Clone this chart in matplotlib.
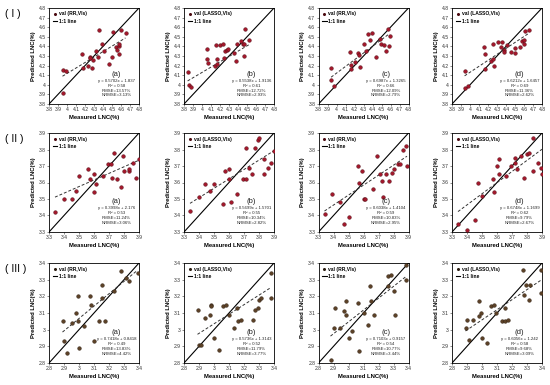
import matplotlib
matplotlib.use('Agg')
import matplotlib.pyplot as plt
from matplotlib.ticker import FuncFormatter, MultipleLocator
from matplotlib.lines import Line2D

# ---------------- data ----------------
row_titles = ['( I )', '( II )', '( III )']
panel_letters = ['(a)', '(b)', '(c)', '(d)']
legend_labels = ['val (RR,VIs)', 'val (LASSO,VIs)', 'val (RR,VIs)', 'val (LASSO,VIs)']
row_limits = [(3.8, 4.8), (3.3, 3.9), (2.8, 3.4)]

# Row I
r1a_x = [3.95, 3.95, 3.99, 4.17, 4.18, 4.23, 4.25, 4.26, 4.28, 4.29, 4.32, 4.35, 4.36, 4.39, 4.41, 4.47, 4.50, 4.51, 4.54, 4.56, 4.58, 4.58, 4.60, 4.65, 4.58]
r1a_y = [3.91, 4.15, 4.14, 4.32, 4.18, 4.20, 4.29, 4.28, 4.17, 4.26, 4.35, 4.29, 4.57, 4.43, 4.35, 4.22, 4.29, 4.55, 4.39, 4.36, 4.40, 4.32, 4.57, 4.54, 4.43]
r1b_x = [3.84, 3.85, 3.88, 4.06, 4.06, 4.07, 4.14, 4.16, 4.17, 4.17, 4.20, 4.23, 4.24, 4.25, 4.28, 4.29, 4.36, 4.38, 4.39, 4.43, 4.45, 4.47, 4.47, 4.48, 4.52]
r1b_y = [4.13, 4.00, 3.98, 4.37, 4.27, 4.23, 4.20, 4.41, 4.27, 4.22, 4.41, 4.43, 4.28, 4.35, 4.36, 4.37, 4.33, 4.25, 4.43, 4.46, 4.43, 4.43, 4.30, 4.58, 4.47]
r1c_x = [3.94, 3.94, 3.97, 4.15, 4.16, 4.16, 4.21, 4.24, 4.25, 4.26, 4.30, 4.33, 4.35, 4.37, 4.39, 4.44, 4.48, 4.49, 4.53, 4.55, 4.57, 4.58, 4.59]
r1c_y = [4.17, 4.05, 3.99, 4.34, 4.21, 4.16, 4.24, 4.33, 4.31, 4.19, 4.42, 4.35, 4.53, 4.47, 4.54, 4.29, 4.48, 4.42, 4.41, 4.35, 4.58, 4.40, 4.51]
r1d_x = [3.94, 3.94, 3.98, 4.16, 4.17, 4.17, 4.23, 4.25, 4.26, 4.27, 4.31, 4.35, 4.36, 4.38, 4.38, 4.41, 4.46, 4.50, 4.50, 4.56, 4.58, 4.60, 4.60, 4.61, 4.66]
r1d_y = [4.14, 3.97, 3.99, 4.39, 4.32, 4.16, 4.25, 4.27, 4.43, 4.20, 4.45, 4.39, 4.45, 4.36, 4.34, 4.41, 4.34, 4.33, 4.38, 4.39, 4.46, 4.47, 4.43, 4.56, 4.57]

# Row II
r2a_x = [3.34, 3.40, 3.45, 3.48, 3.50, 3.56, 3.57, 3.60, 3.60, 3.61, 3.66, 3.69, 3.71, 3.72, 3.73, 3.75, 3.78, 3.79, 3.80, 3.83, 3.83, 3.86, 3.88, 3.90]
r2a_y = [3.42, 3.50, 3.50, 3.55, 3.64, 3.68, 3.62, 3.54, 3.65, 3.59, 3.64, 3.71, 3.71, 3.63, 3.78, 3.62, 3.57, 3.76, 3.67, 3.67, 3.68, 3.72, 3.63, 3.74]
r2b_x = [3.34, 3.40, 3.44, 3.47, 3.50, 3.56, 3.57, 3.60, 3.60, 3.61, 3.65, 3.69, 3.71, 3.71, 3.73, 3.75, 3.77, 3.79, 3.80, 3.83, 3.83, 3.86, 3.88, 3.90]
r2b_y = [3.43, 3.51, 3.59, 3.55, 3.59, 3.47, 3.67, 3.62, 3.68, 3.48, 3.53, 3.62, 3.81, 3.62, 3.69, 3.65, 3.81, 3.86, 3.87, 3.65, 3.74, 3.69, 3.72, 3.79]
r2c_x = [3.34, 3.39, 3.44, 3.47, 3.50, 3.56, 3.57, 3.59, 3.60, 3.61, 3.66, 3.69, 3.71, 3.72, 3.73, 3.75, 3.77, 3.79, 3.80, 3.83, 3.84, 3.86, 3.88, 3.89]
r2c_y = [3.41, 3.53, 3.48, 3.35, 3.39, 3.70, 3.60, 3.67, 3.50, 3.50, 3.56, 3.76, 3.65, 3.61, 3.51, 3.65, 3.61, 3.66, 3.68, 3.71, 3.71, 3.80, 3.82, 3.70]
r2d_x = [3.34, 3.40, 3.45, 3.47, 3.50, 3.57, 3.58, 3.60, 3.61, 3.61, 3.66, 3.69, 3.72, 3.72, 3.73, 3.76, 3.78, 3.80, 3.81, 3.84, 3.84, 3.87, 3.89, 3.90]
r2d_y = [3.35, 3.31, 3.37, 3.60, 3.52, 3.62, 3.54, 3.70, 3.74, 3.65, 3.64, 3.70, 3.75, 3.72, 3.68, 3.76, 3.63, 3.77, 3.78, 3.87, 3.67, 3.72, 3.69, 3.65]

# Row III
r3a_x = [2.89, 2.90, 2.92, 2.95, 2.98, 2.99, 2.99, 3.00, 3.03, 3.07, 3.08, 3.10, 3.13, 3.15, 3.15, 3.17, 3.23, 3.28, 3.31, 3.33, 3.39]
r3a_y = [3.05, 2.93, 2.86, 3.04, 3.10, 3.20, 3.05, 2.89, 3.02, 3.20, 3.15, 2.93, 3.05, 3.27, 3.19, 3.05, 3.23, 3.35, 3.31, 3.29, 3.34]
r3b_x = [2.89, 2.90, 2.91, 2.94, 2.97, 2.98, 2.98, 3.00, 3.03, 3.06, 3.08, 3.10, 3.13, 3.15, 3.16, 3.18, 3.26, 3.27, 3.29, 3.30, 3.31, 3.38, 3.38]
r3b_y = [3.12, 2.91, 2.91, 3.07, 3.09, 3.15, 3.14, 2.95, 2.88, 3.14, 3.15, 3.09, 3.01, 3.13, 3.05, 3.06, 3.06, 3.12, 3.13, 3.18, 3.19, 3.34, 3.19]
r3c_x = [2.88, 2.90, 2.91, 2.94, 2.97, 2.98, 2.98, 3.00, 3.02, 3.06, 3.07, 3.10, 3.13, 3.14, 3.15, 3.17, 3.26, 3.26, 3.28, 3.30, 3.31, 3.38, 3.38]
r3c_y = [2.82, 3.01, 3.13, 3.01, 3.11, 3.17, 3.09, 2.95, 2.99, 3.16, 2.87, 3.10, 3.03, 3.26, 3.17, 3.09, 3.26, 3.32, 3.33, 3.23, 3.09, 3.30, 3.39]
r3d_x = [2.89, 2.90, 2.91, 2.94, 2.98, 2.98, 2.99, 3.00, 3.03, 3.06, 3.08, 3.09, 3.13, 3.15, 3.15, 3.17, 3.27, 3.28, 3.29, 3.31, 3.32, 3.39, 3.39]
r3d_y = [3.01, 3.06, 2.94, 3.06, 3.17, 3.08, 3.10, 2.95, 2.92, 3.14, 3.15, 3.10, 3.05, 3.05, 3.13, 3.06, 3.36, 3.21, 3.27, 3.18, 3.27, 3.36, 3.22]

xs = [[r1a_x, r1b_x, r1c_x, r1d_x], [r2a_x, r2b_x, r2c_x, r2d_x], [r3a_x, r3b_x, r3c_x, r3d_x]]
ys = [[r1a_y, r1b_y, r1c_y, r1d_y], [r2a_y, r2b_y, r2c_y, r2d_y], [r3a_y, r3b_y, r3c_y, r3d_y]]

eq_texts = [
    ['y = 0.5702x + 1.837', 'y = 0.5538x + 1.9136', 'y = 0.6987x + 1.3265', 'y = 0.6212x + 1.6457'],
    ['y = 0.3998x + 2.176', 'y = 0.5699x + 1.5701', 'y = 0.6038x + 1.4104', 'y = 0.6748x + 1.1699'],
    ['y = 0.7418x + 0.8418', 'y = 0.5736x + 1.3143', 'y = 0.7103x + 0.9157', 'y = 0.6056x + 1.242'],
]
slopes = [[0.5702, 0.5538, 0.6987, 0.6212], [0.3998, 0.5699, 0.6038, 0.6748], [0.7418, 0.5736, 0.7103, 0.6056]]
intercepts = [[1.837, 1.9136, 1.3265, 1.6457], [2.176, 1.5701, 1.4104, 1.1699], [0.8418, 1.3143, 0.9157, 1.242]]
r2_texts = [['0.58', '0.61', '0.66', '0.69'], ['0.53', '0.55', '0.59', '0.62'], ['0.49', '0.52', '0.54', '0.58']]
rmse_texts = [['13.57%', '12.72%', '12.09%', '11.36%'], ['11.24%', '10.34%', '10.83%', '9.79%'], ['13.83%', '11.79%', '10.77%', '9.68%']]
nrmse_texts = [['3.13%', '2.93%', '2.79%', '2.62%'], ['3.06%', '2.82%', '2.95%', '2.67%'], ['4.42%', '3.77%', '3.44%', '3.09%']]

# ---------------- style ----------------
W, H = 550, 385
fig = plt.figure(figsize=(5.5, 3.85), dpi=100)
fig.patch.set_facecolor('white')
FONT = ['Liberation Sans Narrow', 'Liberation Sans', 'DejaVu Sans']
plt.rcParams['font.family'] = FONT

col_left = [49, 184, 318.5, 452]
ax_w = 90
row_top = [8, 133, 263]
row_h = [96, 99, 100]
face_cols = ['#A3172B', '#A3172B', '#5C4126']
edge_cols = ['#4A0A10', '#4A0A10', '#2A1C10']

fmt = FuncFormatter(lambda v, p: ('%.1f' % v).rstrip('0').rstrip('.'))

for r in range(3):
    lo, hi = row_limits[r]
    for c in range(4):
        ax = fig.add_axes([col_left[c] / W, 1 - (row_top[r] + row_h[r]) / H, ax_w / W, row_h[r] / H])
        ax.set_xlim(lo, hi)
        ax.set_ylim(lo, hi)
        ax.xaxis.set_major_locator(MultipleLocator(0.1))
        ax.yaxis.set_major_locator(MultipleLocator(0.1))
        ax.xaxis.set_major_formatter(fmt)
        ax.yaxis.set_major_formatter(fmt)
        ax.tick_params(labelsize=3.6, length=1.2, width=0.4, pad=1.2, colors='#333333')
        for s in ax.spines.values():
            s.set_linewidth(0.6)
        ax.set_xlabel('Measured LNC(%)', fontsize=4.2, fontweight='bold', labelpad=2)
        ax.set_ylabel('Predicted LNC(%)', fontsize=4.2, fontweight='bold', labelpad=2)

        x = xs[r][c]
        y = ys[r][c]
        ax.plot([lo, hi], [lo, hi], color='black', lw=0.8, zorder=2)
        x0, x1 = min(x), max(x)
        ax.plot([x0, x1], [slopes[r][c] * x0 + intercepts[r][c], slopes[r][c] * x1 + intercepts[r][c]],
                color='#333333', lw=0.7, ls=(0, (3, 2)), zorder=2)
        ax.scatter(x, y, s=7, c=face_cols[r], edgecolors=edge_cols[r], linewidths=0.3, zorder=3)

        handles = [Line2D([], [], marker='o', ls='none', ms=1.2, color=edge_cols[r]),
                   Line2D([], [], color='black', lw=0.8)]
        ax.legend(handles, [legend_labels[c], '1:1 line'], loc='upper left', frameon=False,
                  handlelength=0.9, handletextpad=0.4, borderaxespad=0.3,
                  labelspacing=0.5, prop={'weight': 'bold', 'size': 3.6})

        ax.text(0.75, 0.305, panel_letters[c], transform=ax.transAxes, ha='center', va='center',
                fontsize=5.5, color='#222222')
        lines = [eq_texts[r][c], 'R\u00b2 = ' + r2_texts[r][c], 'RMSE=' + rmse_texts[r][c],
                 'NRMSE=' + nrmse_texts[r][c]]
        for i, t in enumerate(lines):
            ax.text(0.75, 0.24 - i * 0.05, t, transform=ax.transAxes, ha='center', va='center',
                    fontsize=3.1, color='#222222')

    fig.text(5 / W, 1 - (row_top[r] + 6) / H, row_titles[r], fontsize=7.5, ha='left', va='center',
             family=['Liberation Sans', 'DejaVu Sans'])

fig.savefig('out.png', dpi=100, facecolor='white')
